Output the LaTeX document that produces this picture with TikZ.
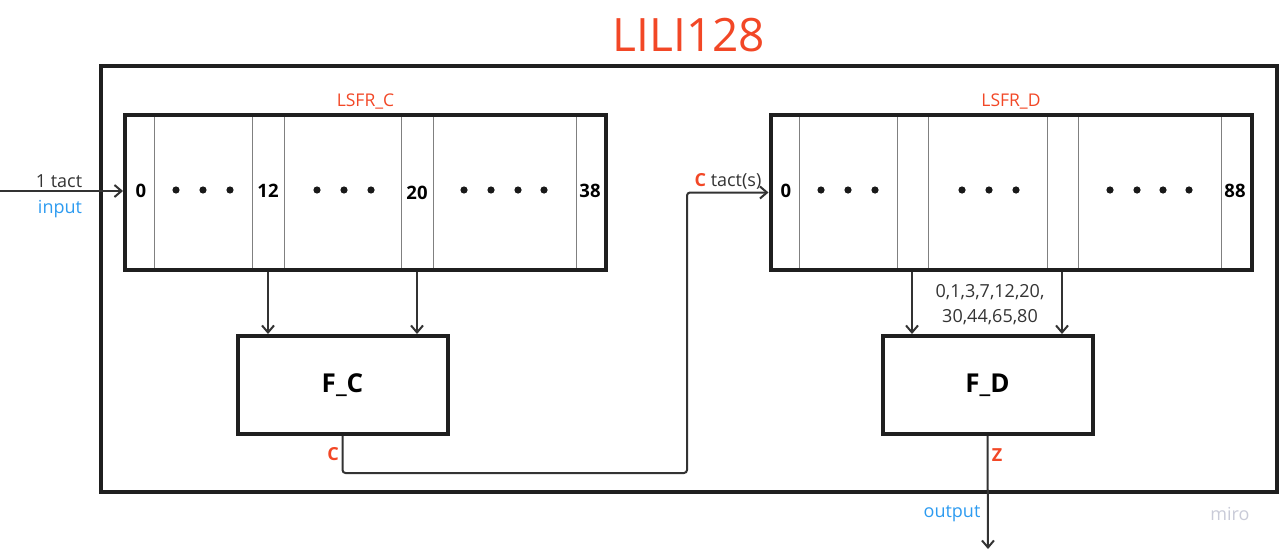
\documentclass[tikz,border=0pt]{standalone}
\usepackage{fontspec}
\setmainfont{Open Sans}
\usetikzlibrary{positioning,arrows.meta}
\definecolor{mirolinha}{HTML}{333333}
\definecolor{mirored}{HTML}{F24726}
\definecolor{miroblue}{HTML}{2D9BF0}
\definecolor{mirogray}{HTML}{C9CBD8}

\begin{document}
\begin{tikzpicture}[x=1pt, y=-1pt,
      font=\fontsize{18}{22}\selectfont,
      moldura/.style={draw=black!88, line width=3.5pt, minimum width=1176pt, minimum height=426pt, inner sep=0pt},
      registro/.style={draw=black!88, line width=4pt, minimum width=481pt, minimum height=155pt, inner sep=0pt},
      funcao/.style={draw=black!88, line width=4pt, minimum width=210pt, minimum height=98pt, inner sep=0pt,
                     font=\fontsize{26}{28}\selectfont\bfseries},
      celula/.style={black!50, line width=1pt},
      num/.style={font=\fontsize{18.5}{20}\selectfont\bfseries, inner sep=1pt},
      rotulo/.style={text=mirored, font=\fontsize{17.5}{20}\selectfont},
      sinal/.style={text=mirored, font=\fontsize{18}{20}\selectfont\bfseries},
      azul/.style={text=miroblue},
      seta/.style={-{Straight Barb[length=7pt, width=12pt]}, mirolinha, line width=2pt}]
    \useasboundingbox (0,0) rectangle (1280,551);
    \node[text=mirored, font=\fontsize{46}{50}\selectfont] (titulo) at (689,35) {LILI128};
    \node[moldura] (frame) at (689,279) {};
    % registradores
    \node[registro] (regc) at (365.5,192.5) {};
    \node[registro] (regd) at (1011,192.5) {};
    \node[rotulo, above=0pt of regc] (lc) {LSFR\_C};
    \node[rotulo, above=0pt of regd] (ld) {LSFR\_D};
    \foreach \x in {154,252,284,401,433,576,799,897,928,1047,1078,1221}
      \draw[celula] (\x,117) -- (\x,268);
    \foreach \x in {176,203,230,317,344,371,464,491,518,544,821,848,875,962,989,1016,1110,1137,1163,1189}
      \fill[black!90] (\x,190) circle (3.6pt);
    \node[num] (c0) at (141,191) {0};
    \node[num] (c12) at (268,191) {12};
    \node[num] (c20) at (417,193) {20};
    \node[num] (c38) at (590,191) {38};
    \node[num] (d0) at (786,191) {0};
    \node[num] (d88) at (1235,191) {88};
    \coordinate (d3) at (912,191);
    \coordinate (d80) at (1062,191);
    % funcoes
    \node[funcao] (fc) at (342.5,385) {F\_C};
    \node[funcao] (fd) at (987.5,385) {F\_D};
    \draw[seta] (c12 |- regc.south) -- (c12 |- fc.north);
    \draw[seta] (c20 |- regc.south) -- (c20 |- fc.north);
    \draw[seta] (d3 |- regd.south) -- (d3 |- fd.north);
    \draw[seta] (d80 |- regd.south) -- (d80 |- fd.north);
    \node[align=center, font=\fontsize{18}{25}\selectfont, text=mirolinha] (taps) at (990,305) {0,1,3,7,12,20,\\30,44,65,80};
    % entrada e saida
    \coordinate (ent) at (0,191);
    \draw[seta] (ent) -- (ent -| regc.west);
    \node[text=mirolinha] (tact) at (59,181) {1 tact};
    \node[azul] (input) at (60,209) {input};
    \coordinate (volta) at (687,473);
    \draw[seta, rounded corners=3pt] (fc.south) |- (volta) |- (regd.west);
    \node[sinal] (sc) at (333,454) {C};
    \node[text=mirolinha] (ctact) at (728,181) {\textcolor{mirored}{\bfseries C} tact(s)};
    \coordinate (saida) at (988,549);
    \draw[seta] (fd.south) -- (saida);
    \node[sinal] (sz) at (997,455) {Z};
    \node[azul] (output) at (952,514) {output};
    \node[text=mirogray] (miro) at (1230,514) {miro};
  \end{tikzpicture}
\end{document}
